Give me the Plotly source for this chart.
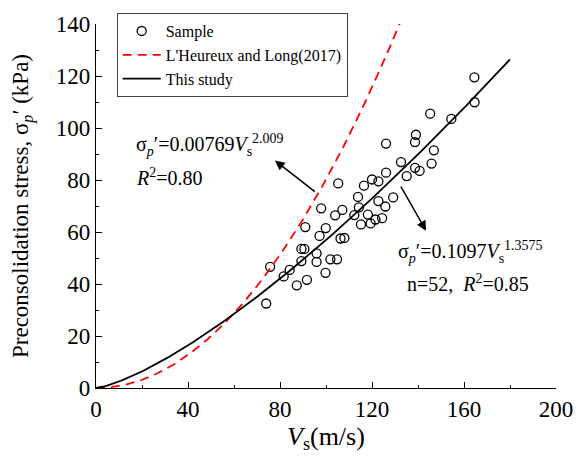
import numpy as np
import plotly.graph_objects as go

# Sample data (Vs in m/s, preconsolidation stress in kPa)
vs_sample = [74.0, 75.7, 81.6, 84.2, 87.3, 91.7, 99.8, 89.3, 95.9, 95.9,
             89.3, 90.6, 101.9, 104.8, 97.2, 106.3, 108.0, 91.0, 99.9, 97.9,
             104.0, 107.1, 105.3, 112.3, 118.2, 115.2, 119.4, 121.5, 124.4, 114.3,
             113.9, 122.8, 125.8, 129.2, 116.5, 120.0, 122.8, 126.1, 126.1, 132.6,
             135.1, 138.7, 140.7, 138.7, 139.1, 145.9, 146.9, 145.3, 154.5, 164.6,
             164.5]
sp_sample = [32.5, 46.6, 42.9, 45.4, 39.5, 41.6, 44.3, 48.8, 48.5, 51.8,
             53.5, 53.5, 49.5, 49.5, 58.5, 57.5, 57.7, 61.9, 61.5, 69.1,
             66.4, 68.5, 78.7, 66.5, 66.7, 62.9, 63.3, 64.8, 65.3, 69.5,
             73.5, 71.9, 69.8, 73.3, 77.8, 80.2, 79.5, 82.8, 94.0, 86.9,
             81.5, 84.7, 83.5, 94.6, 97.4, 86.3, 91.4, 105.5, 103.5, 109.9,
             119.5]

# Fitted models
a_lh, b_lh = 0.00769, 2.009
a_ts, b_ts = 0.1097, 1.3575
vs_lh = np.linspace(0, 133, 200)
vs_ts = np.linspace(0, 180, 200)
sp_lh = a_lh * vs_lh ** b_lh
sp_ts = a_ts * vs_ts ** b_ts

FONT = "Liberation Serif"

fig = go.Figure()
fig.add_trace(go.Scatter(
    x=vs_sample, y=sp_sample, mode="markers", name="Sample",
    marker=dict(symbol="circle-open", size=9, color="black", line=dict(width=1.3, color="black"))))
fig.add_trace(go.Scatter(
    x=vs_lh, y=sp_lh, mode="lines", name="L'Heureux and Long(2017)",
    line=dict(color="#ff0000", width=1.8, dash="9px,6px")))
fig.add_trace(go.Scatter(
    x=vs_ts, y=sp_ts, mode="lines", name="This study",
    line=dict(color="black", width=1.8)))

ann_font = dict(family=FONT, size=20, color="black")
annotations = [
    dict(x=16.5, y=93.5, xref="x", yref="y", xanchor="left", yanchor="middle", showarrow=False,
         text="σ<sub><i>p</i></sub>′=0.00769<i>V</i><sub>s</sub><sup>2.009</sup>", font=ann_font),
    dict(x=16.5, y=81, xref="x", yref="y", xanchor="left", yanchor="middle", showarrow=False,
         text="<i>R</i><sup>2</sup>=0.80", font=ann_font),
    dict(x=130.5, y=52.5, xref="x", yref="y", xanchor="left", yanchor="middle", showarrow=False,
         text="σ<sub><i>p</i></sub>′=0.1097<i>V</i><sub>s</sub><sup>1.3575</sup>", font=ann_font),
    dict(x=134.5, y=40.5, xref="x", yref="y", xanchor="left", yanchor="middle", showarrow=False,
         text="n=52,  <i>R</i><sup>2</sup>=0.85", font=ann_font),
    dict(x=77.8, y=87.5, ax=95.8, ay=75.1, xref="x", yref="y", axref="x", ayref="y",
         text="", showarrow=True, arrowhead=2, arrowsize=1.3, arrowwidth=1.5, arrowcolor="black"),
    dict(x=143.5, y=60.5, ax=132.2, ay=78.0, xref="x", yref="y", axref="x", ayref="y",
         text="", showarrow=True, arrowhead=2, arrowsize=1.3, arrowwidth=1.5, arrowcolor="black"),
    # x-axis title
    dict(x=0.5, y=-0.138, xref="paper", yref="paper", xanchor="center", yanchor="middle",
         showarrow=False, text="<i>V</i><sub>s</sub>(m/s)", font=dict(family=FONT, size=26, color="black")),
]

fig.update_layout(
    width=585, height=457,
    margin=dict(l=96, r=27, t=15, b=69),
    paper_bgcolor="white", plot_bgcolor="white",
    font=dict(family=FONT, size=20, color="black"),
    showlegend=True,
    legend=dict(x=0.045, y=1.03, xanchor="left", yanchor="top",
                bgcolor="white", bordercolor="#444", borderwidth=1,
                font=dict(family=FONT, size=16, color="black"),
                tracegroupgap=0, itemwidth=38),
    annotations=annotations,
)
fig.update_xaxes(
    range=[0, 200], tickvals=[0, 40, 80, 120, 160, 200],
    showline=True, linecolor="black", linewidth=1.4, mirror=False,
    ticks="inside", ticklen=6, tickwidth=1.3, tickcolor="black",
    minor=dict(dtick=20, ticks="inside", ticklen=3, tickwidth=1, tickcolor="black"),
    showgrid=False, zeroline=False,
    tickfont=dict(family=FONT, size=23),
)
fig.update_yaxes(
    range=[0, 140], tickvals=[0, 20, 40, 60, 80, 100, 120, 140],
    showline=True, linecolor="black", linewidth=1.4, mirror=False,
    ticks="inside", ticklen=6, tickwidth=1.3, tickcolor="black",
    minor=dict(dtick=10, ticks="inside", ticklen=3, tickwidth=1, tickcolor="black"),
    showgrid=False, zeroline=False,
    tickfont=dict(family=FONT, size=23),
    title=dict(text="Preconsolidation stress, σ<sub><i>p</i></sub>′ (kPa)", font=dict(family=FONT, size=23), standoff=20),
)

fig.write_html("out.html")
